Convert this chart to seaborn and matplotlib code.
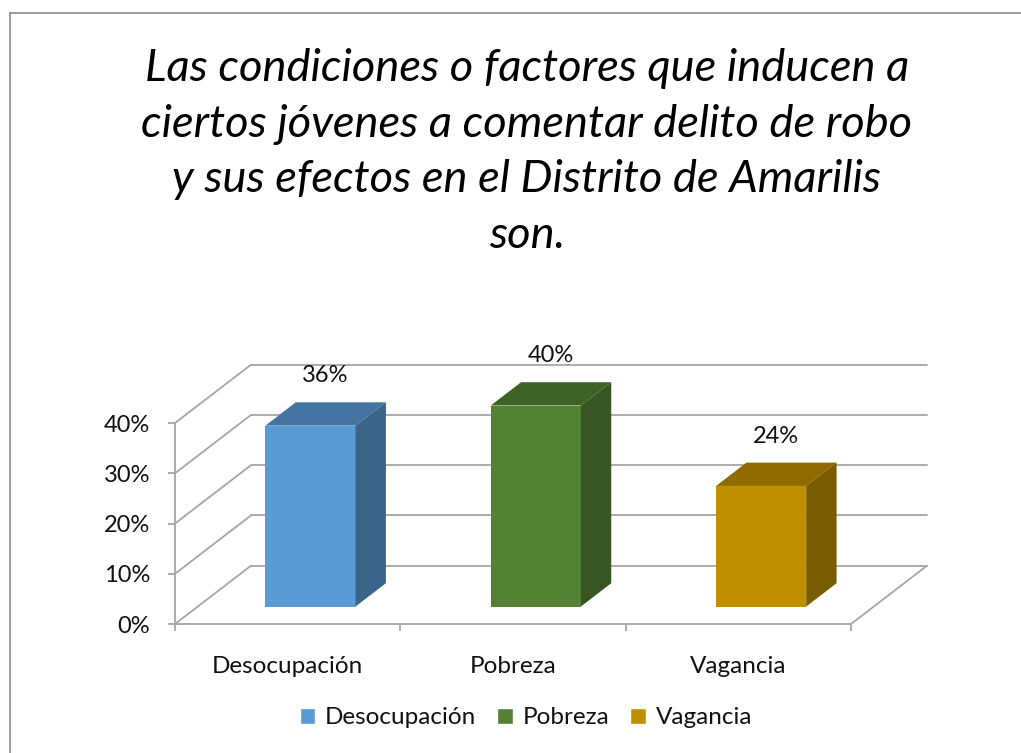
import matplotlib
matplotlib.use('Agg')
import matplotlib.pyplot as plt
import seaborn as sns
import pandas as pd
from matplotlib.patches import Polygon, Patch
from matplotlib.lines import Line2D

# datos del grafico
categorias = ['Desocupación', 'Pobreza', 'Vagancia']
porcentajes = [0.36, 0.40, 0.24]
etiquetas = ['36%', '40%', '24%']
y_ticks = [0, 0.1, 0.2, 0.3, 0.4]
y_labels = ['0%', '10%', '20%', '30%', '40%']

# colores de cada cara de la barra
color_frente = ['#5B9BD5', '#548235', '#BF8F00']
color_techo = ['#4674A2', '#3F6327', '#8F6B00']
color_lado = ['#3B6489', '#375623', '#7A5C00']

titulo = ('Las condiciones o factores que inducen a\n'
          'ciertos jóvenes a comentar delito de robo\n'
          'y sus efectos en el Distrito de Amarilis\n'
          'son.')

df = pd.DataFrame({'categoria': categorias, 'valor': porcentajes})

sns.set_style('white')
plt.rcParams['font.family'] = ['Lato', 'DejaVu Sans']

fig = plt.figure(figsize=(10.21, 7.53), dpi=100)
ax = fig.add_axes([0.1714, 0.1713, 0.7365, 0.347])

# profundidad de la vista 3D (unidades de datos)
DX, DY = 0.337, 0.116
ANCHO = 0.40
FRENTE, FONDO = 0.3, 0.7
gris = '#A6A6A6'
texto = '#111111'

sns.barplot(data=df, x='categoria', y='valor', hue='categoria',
            palette=color_frente, width=ANCHO, legend=False,
            saturation=1, ax=ax, zorder=3)

# pared del fondo y pared izquierda
for v in y_ticks:
    ax.plot([-0.5 + DX, 2.5 + DX], [v + DY, v + DY], color=gris, lw=1.3, zorder=1, clip_on=False)
    ax.plot([-0.5, -0.5 + DX], [v, v + DY], color=gris, lw=1.3, zorder=1, clip_on=False)
# borde derecho del piso
ax.plot([2.5, 2.5 + DX], [0, DY], color=gris, lw=1.3, zorder=1, clip_on=False)

# caras superior y lateral de cada barra
d = FONDO - FRENTE
barras = sorted(ax.patches, key=lambda p: p.get_x())
for i, p in enumerate(barras):
    x0 = p.get_x() + FRENTE * DX
    y0 = FRENTE * DY
    p.set_x(x0)
    p.set_y(y0)
    p.set_linewidth(0)
    w = p.get_width()
    h = p.get_height()
    techo = [(x0, y0 + h), (x0 + w, y0 + h),
             (x0 + w + d * DX, y0 + h + d * DY), (x0 + d * DX, y0 + h + d * DY)]
    lado = [(x0 + w, y0), (x0 + w + d * DX, y0 + d * DY),
            (x0 + w + d * DX, y0 + h + d * DY), (x0 + w, y0 + h)]
    ax.add_patch(Polygon(techo, closed=True, facecolor=color_techo[i], lw=0, zorder=3, clip_on=False))
    ax.add_patch(Polygon(lado, closed=True, facecolor=color_lado[i], lw=0, zorder=3, clip_on=False))
    ax.annotate(etiquetas[i], xy=(x0 + w / 2 + d * DX / 2, y0 + h + d * DY),
                xytext=(0, 19), textcoords='offset points', ha='center', va='center',
                fontsize=17, color=texto, annotation_clip=False)

ax.set_xlim(-0.5, 2.5 + DX)
ax.set_ylim(0, 0.4 + DY + 0.004)

for s in ['top', 'right']:
    ax.spines[s].set_visible(False)
ax.spines['left'].set_bounds(0, 0.4)
ax.spines['bottom'].set_bounds(-0.5, 2.5)
for s in ['left', 'bottom']:
    ax.spines[s].set_color(gris)
    ax.spines[s].set_linewidth(1.3)

ax.set_yticks(y_ticks, y_labels)
ax.tick_params(axis='y', length=5, width=1.3, color=gris, pad=13, labelsize=17, labelcolor=texto, left=True)
ax.set_xticks([0, 1, 2], categorias)
ax.set_xticks([-0.5, 0.5, 1.5, 2.5], minor=True)
ax.tick_params(axis='x', which='major', length=0, pad=23, labelsize=17.5, labelcolor=texto)
ax.tick_params(axis='x', which='minor', length=5, width=1.3, color=gris, bottom=True)
ax.set_xlabel('')
ax.set_ylabel('')

# titulo
fig.text(0.516, 1 - 48 / 753, titulo, ha='center', va='top', fontsize=32.6,
         style='italic', linespacing=1.44, color='black')

# leyenda
manijas = [Patch(facecolor=c, label=l) for c, l in zip(color_frente, categorias)]
fig.legend(handles=manijas, loc='center', bbox_to_anchor=(0.515, 1 - 718 / 753), ncol=3,
           frameon=False, fontsize=17.5, handlelength=0.65, handleheight=0.65,
           handletextpad=0.4, columnspacing=0.85, labelcolor=texto)

# borde del area del grafico
fig.add_artist(Line2D([10 / 1021, 10 / 1021], [0, 1 - 13 / 753], transform=fig.transFigure, color='#8C8C8C', lw=1.2))
fig.add_artist(Line2D([10 / 1021, 1], [1 - 13 / 753, 1 - 13 / 753], transform=fig.transFigure, color='#8C8C8C', lw=1.2))

fig.savefig('out.png', dpi=100)
